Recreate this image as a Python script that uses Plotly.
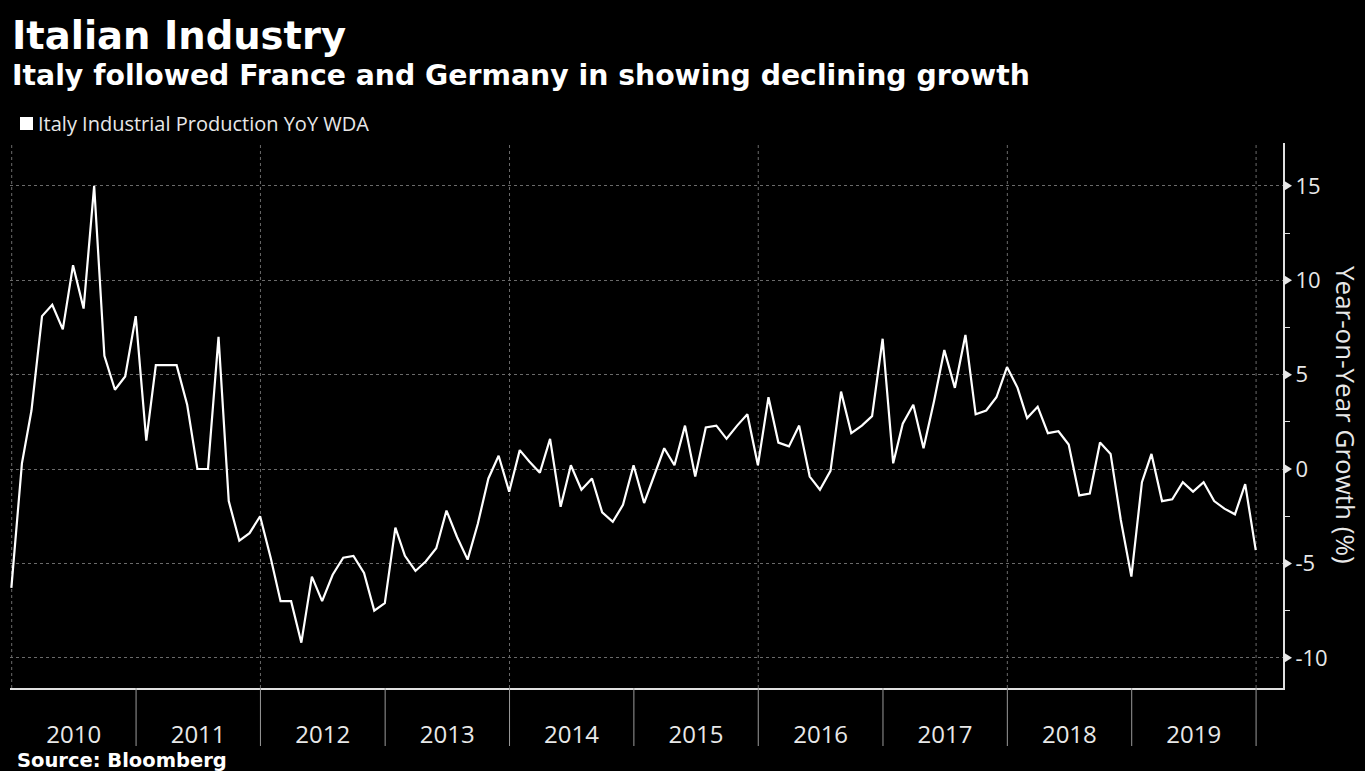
import pandas as pd
import plotly.graph_objects as go

# ---- data ----
start_month = "2009-12-31"
ip_yoy = [
    -6.3, 0.3, 3.1, 8.1, 8.7, 7.4, 10.8, 8.5, 15.0, 6.0, 4.2, 4.9,
    8.1, 1.5, 5.5, 5.5, 5.5, 3.4, 0.0, 0.0, 7.0, -1.7, -3.8, -3.4,
    -2.5, -4.7, -7.0, -7.0, -9.2, -5.7, -7.0, -5.6, -4.7, -4.6, -5.5, -7.5,
    -7.1, -3.1, -4.6, -5.4, -4.9, -4.2, -2.2, -3.6, -4.8, -2.9, -0.5, 0.7,
    -1.2, 1.0, 0.4, -0.2, 1.6, -2.0, 0.2, -1.1, -0.5, -2.3, -2.8, -1.9,
    0.2, -1.8, -0.4, 1.1, 0.2, 2.3, -0.4, 2.2, 2.3, 1.6, 2.3, 2.9,
    0.2, 3.8, 1.4, 1.2, 2.3, -0.4, -1.1, -0.1, 4.1, 1.9, 2.3, 2.8,
    6.9, 0.3, 2.4, 3.4, 1.1, 3.6, 6.3, 4.3, 7.1, 2.9, 3.1, 3.8,
    5.4, 4.3, 2.7, 3.3, 1.9, 2.0, 1.3, -1.4, -1.3, 1.4, 0.8, -2.7,
    -5.7, -0.7, 0.8, -1.7, -1.6, -0.7, -1.2, -0.7, -1.7, -2.1, -2.4, -0.8,
    -4.3,
]
years = [2010, 2011, 2012, 2013, 2014, 2015, 2016, 2017, 2018, 2019]
year_labels = [str(y) for y in years]
y_ticks = [-10, -5, 0, 5, 10, 15]
grid_years = [2010, 2012, 2014, 2016, 2018, 2020]

title = "Italian Industry"
subtitle = "Italy followed France and Germany in showing declining growth"
series_name = "Italy Industrial Production YoY WDA"
y_title = "Year-on-Year Growth (%)"
source = "Source: Bloomberg"

dates = pd.date_range(start=start_month, periods=len(ip_yoy), freq="ME")

# ---- geometry (pixels) ----
W, H = 1365, 771
L, R, T, B = 10, 82, 143, 83
PW, PH = W - L - R, H - T - B


def px(x):
    return (x - L) / PW


def py(y):
    return (H - B - y) / PH


fig = go.Figure()
fig.add_trace(go.Scatter(
    x=dates, y=ip_yoy, mode="lines", name=series_name,
    line=dict(color="#ffffff", width=2.2), showlegend=False,
))

shapes = []
# vertical dotted grid lines every two years
for gy in grid_years:
    shapes.append(dict(type="line", xref="x", yref="paper",
                       x0=f"{gy}-01-01", x1=f"{gy}-01-01", y0=0, y1=1,
                       line=dict(color="#6a6a6a", width=1, dash="dot"),
                       layer="below"))
# year separators below the axis
for yv in years:
    xb = f"{yv + 1}-01-01"
    shapes.append(dict(type="line", xref="x", yref="paper",
                       x0=xb, x1=xb, y0=0, y1=py(746),
                       line=dict(color="#9a9a9a", width=1)))
# triangular major tick markers on the right axis
for tv in y_ticks:
    shapes.append(dict(type="path", xref="paper", yref="y",
                       xsizemode="pixel", ysizemode="pixel",
                       xanchor=1, yanchor=tv,
                       path="M 1,5 L 9,0 L 1,-5 Z",
                       fillcolor="#e8e8e8", line=dict(width=0)))
# legend square
shapes.append(dict(type="rect", xref="paper", yref="paper",
                   x0=px(20), x1=px(33), y0=py(130), y1=py(117),
                   fillcolor="#ffffff", line=dict(width=0)))

annotations = [
    dict(text=f"<b>{title}</b>", xref="paper", yref="paper",
         x=px(10), y=py(36), xanchor="left", yanchor="middle",
         showarrow=False, font=dict(family="DejaVu Sans", size=38.5, color="#ffffff")),
    dict(text=f"<b>{subtitle}</b>", xref="paper", yref="paper",
         x=px(10), y=py(75), xanchor="left", yanchor="middle",
         showarrow=False, font=dict(family="DejaVu Sans", size=28.3, color="#ffffff")),
    dict(text=series_name, xref="paper", yref="paper",
         x=px(36), y=py(123), xanchor="left", yanchor="middle",
         showarrow=False, font=dict(family="Open Sans", size=20, color="#e8e8e8")),
    dict(text=f"<b>{source}</b>", xref="paper", yref="paper",
         x=px(15), y=py(760), xanchor="left", yanchor="middle",
         showarrow=False, font=dict(family="DejaVu Sans", size=19.5, color="#ffffff")),
    dict(text=y_title, xref="paper", yref="paper",
         x=px(1346), y=py(415), xanchor="center", yanchor="middle",
         textangle=90, showarrow=False,
         font=dict(family="Open Sans", size=26, color="#e8e8e8")),
]

fig.update_layout(
    width=W, height=H,
    margin=dict(l=L, r=R, t=T, b=B, pad=0),
    paper_bgcolor="#000000", plot_bgcolor="#000000",
    showlegend=False,
    shapes=shapes,
    annotations=annotations,
    xaxis=dict(
        type="date",
        range=["2009-12-27", "2020-03-20"],
        tickvals=[f"{y}-07-02" for y in years],
        ticktext=year_labels,
        ticks="outside", ticklen=24, tickcolor="rgba(0,0,0,0)",
        tickfont=dict(family="Open Sans", size=24, color="#e8e8e8"),
        showgrid=False, zeroline=False,
        showline=True, linecolor="#e0e0e0", linewidth=2,
        fixedrange=True,
    ),
    yaxis=dict(
        side="right",
        range=[-11.6, 17.27],
        tickvals=y_ticks,
        ticktext=[str(v) for v in y_ticks],
        ticks="", ticklabelstandoff=6,
        tickfont=dict(family="Open Sans", size=22, color="#e8e8e8"),
        showgrid=True, gridcolor="#6a6a6a", griddash="dot", gridwidth=1,
        zeroline=False,
        showline=True, linecolor="#e0e0e0", linewidth=2,
        minor=dict(tick0=2.5, dtick=5, ticks="outside", ticklen=5,
                   tickcolor="#e0e0e0", showgrid=False),
        fixedrange=True,
    ),
)

fig.write_html("out.html")
